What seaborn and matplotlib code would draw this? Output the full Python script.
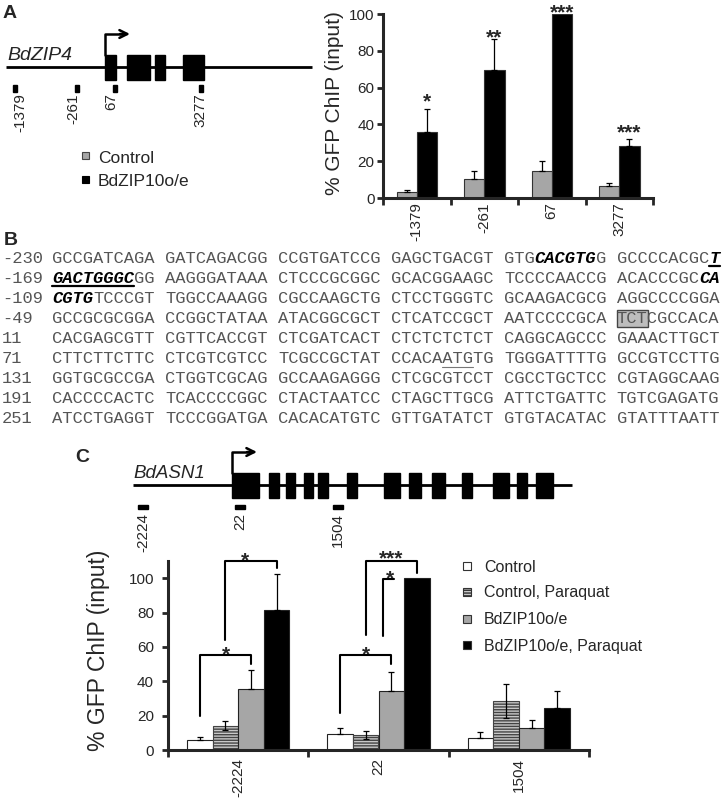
import numpy as np
import pandas as pd
import matplotlib
matplotlib.use("Agg")
import matplotlib.pyplot as plt
import seaborn as sns
from matplotlib.patches import Rectangle

# === Panel A: BdZIP4 ChIP ===
sites_a = ["-1379", "-261", "67", "3277"]
groups_a = ["Control", "BdZIP10o/e"]
control_a = [3.1, 10.1, 14.5, 6.7]
control_a_err = [1.2, 4.4, 5.6, 1.3]
oe_a = [36.0, 69.4, 100.0, 28.4]
oe_a_err = [12.6, 17.2, 0.0, 3.8]
stars_a = ["*", "**", "***", "***"]
star_y_a = [49.2, 84.1, 97.7, 32.4]

# === Panel C: BdASN1 ChIP ===
sites_c = ["-2224", "22", "1504"]
groups_c = ["Control", "Control, Paraquat", "BdZIP10o/e", "BdZIP10o/e, Paraquat"]
control_c = [5.8, 9.3, 6.8]
control_c_err = [1.8, 3.3, 3.7]
control_pq_c = [14.2, 8.7, 28.5]
control_pq_c_err = [2.7, 2.2, 9.8]
oe_c = [35.5, 34.5, 13.0]
oe_c_err = [11.3, 10.7, 4.3]
oe_pq_c = [81.5, 100.0, 24.3]
oe_pq_c_err = [20.8, 0.0, 10.1]

# === Panel B: promoter sequence ===
seq_starts = ["-230", "-169", "-109", "-49", "11", "71", "131", "191", "251"]
seq_blocks = [
    ["GCCGATCAGA", "GATCAGACGG", "CCGTGATCCG", "GAGCTGACGT", "GTGCACGTGG", "GCCCCACGCT"],
    ["GACTGGGCGG", "AAGGGATAAA", "CTCCCGCGGC", "GCACGGAAGC", "TCCCCAACCG", "ACACCCGCCA"],
    ["CGTGTCCCGT", "TGGCCAAAGG", "CGCCAAGCTG", "CTCCTGGGTC", "GCAAGACGCG", "AGGCCCCGGA"],
    ["GCCGCGCGGA", "CCGGCTATAA", "ATACGGCGCT", "CTCATCCGCT", "AATCCCCGCA", "TCTCGCCACA"],
    ["CACGAGCGTT", "CGTTCACCGT", "CTCGATCACT", "CTCTCTCTCT", "CAGGCAGCCC", "GAAACTTGCT"],
    ["CTTCTTCTTC", "CTCGTCGTCC", "TCGCCGCTAT", "CCACAATGTG", "TGGGATTTTG", "GCCGTCCTTG"],
    ["GGTGCGCCGA", "CTGGTCGCAG", "GCCAAGAGGG", "CTCGCGTCCT", "CGCCTGCTCC", "CGTAGGCAAG"],
    ["CACCCCACTC", "TCACCCCGGC", "CTACTAATCC", "CTAGCTTGCG", "ATTCTGATTC", "TGTCGAGATG"],
    ["ATCCTGAGGT", "TCCCGGATGA", "CACACATGTC", "GTTGATATCT", "GTGTACATAC", "GTATTTAATT"],
]
# (row, first base, end base)
bold_spans = [(0, 43, 49), (0, 59, 60), (1, 0, 8), (1, 58, 60), (2, 0, 4)]
thick_underlines = [(0, 59, 60), (1, 0, 8)]
thin_underlines = [(5, 35, 38)]
boxed_spans = [(3, 50, 53)]

sns.set_style("ticks")
plt.rcParams["font.family"] = ["Liberation Sans", "DejaVu Sans"]
plt.rcParams["hatch.linewidth"] = 1.0

W, H = 723, 801
fig = plt.figure(figsize=(W / 100, H / 100), dpi=100)

# overlay in pixel coordinates for diagrams and text
ov = fig.add_axes([0, 0, 1, 1])
ov.set_xlim(0, W)
ov.set_ylim(H, 0)
ov.axis("off")

gray = "#a6a6a6"
seq_gray = "#555555"
star_kw = dict(ha="center", va="baseline", fontsize=15, fontweight="bold", clip_on=False)

# === panel labels ===
for lab, x, y in [("A", 3, 18), ("B", 4, 245), ("C", 75, 462)]:
    ov.text(x, y, lab, fontsize=14, fontweight="bold", va="baseline")


def gene(ov, x0, x1, y, exons, tss, arrow_end, label, label_x, label_size):
    ov.plot([x0, x1], [y, y], color="black", lw=2.0, solid_capstyle="butt")
    for a, b in exons:
        ov.add_patch(Rectangle((a, y - 12.5), b - a, 25, color="black", zorder=3))
    ov.plot([tss, tss, arrow_end - 6], [y - 12.5, y - 33, y - 33], color="black", lw=1.8)
    ov.annotate("", xy=(arrow_end, y - 33), xytext=(arrow_end - 10, y - 33),
                arrowprops=dict(arrowstyle="->", lw=1.8, color="black",
                                mutation_scale=14, shrinkA=0, shrinkB=0))
    ov.text(label_x, y - 7, label, fontsize=label_size, style="italic", va="baseline")


# === Panel A gene model ===
gene(ov, 6, 312, 67, [(105, 116), (127, 150), (155, 165), (183, 204)],
     105, 130, "BdZIP4", 7, 14)
for lab, tx, mx in zip(sites_a, [20, 73, 111, 200], [13, 75, 113, 199]):
    ov.add_patch(Rectangle((mx, 85), 4, 7, color="black"))
    ov.text(tx, 93, lab, rotation=90, ha="center", va="top", fontsize=11)

# legend A
ov.add_patch(Rectangle((82, 152), 7, 7, facecolor=gray, edgecolor="#444", lw=0.8))
ov.add_patch(Rectangle((82, 176), 7, 7, facecolor="black", edgecolor="black", lw=0.8))
ov.text(98, 163, "Control", fontsize=12.5, va="baseline")
ov.text(98, 186, "BdZIP10o/e", fontsize=12.5, va="baseline")

# === Panel B sequence ===
cw = 10.27
x_seq = 52
bold_mask = np.zeros((len(seq_blocks), 60), dtype=bool)
for r, a, b in bold_spans:
    bold_mask[r, a:b] = True

for r, (start, blocks) in enumerate(zip(seq_starts, seq_blocks)):
    base = 263 + 20 * r
    ov.text(2, base, start, family="Liberation Mono", fontsize=12.3,
            color=seq_gray, va="baseline")
    for b, block in enumerate(blocks):
        k = 0
        while k < 10:
            style = bold_mask[r, b * 10 + k]
            j = k
            while j < 10 and bold_mask[r, b * 10 + j] == style:
                j += 1
            x = x_seq + (b * 10 + k + b) * cw
            if style:
                ov.text(x, base, block[k:j], family="Liberation Mono", fontsize=12.3,
                        fontweight="bold", style="italic", color="black", va="baseline")
            else:
                ov.text(x, base, block[k:j], family="Liberation Mono", fontsize=12.3,
                        color=seq_gray, va="baseline")
            k = j


def col_x(k):
    return x_seq + (k + k // 10) * cw


for r, a, b in thick_underlines:
    y = 263 + 20 * r + 3
    ov.plot([col_x(a), col_x(b - 1) + cw], [y, y], color="black", lw=1.6)
for r, a, b in thin_underlines:
    y = 263 + 20 * r + 4
    ov.plot([col_x(a), col_x(b - 1) + cw], [y, y], color="#777", lw=0.8)
for r, a, b in boxed_spans:
    base = 263 + 20 * r
    ov.add_patch(Rectangle((col_x(a), base - 13), col_x(b - 1) + cw - col_x(a), 17,
                           facecolor="#bdbdbd", edgecolor="#444", lw=1.0, zorder=0))

# === Panel C gene model ===
exons_c = [(232, 259), (269, 279), (286, 295), (304, 313), (318, 328), (347, 357),
           (384, 400), (409, 421), (432, 445), (462, 472), (493, 509), (517, 527),
           (536, 553)]
gene(ov, 133, 572, 485, exons_c, 232, 257, "BdASN1", 133, 13.5)
for lab, x in zip(sites_c, [143, 240, 338]):
    ov.add_patch(Rectangle((x - 5, 505), 10, 4, color="black"))
    ov.text(x, 513, lab, rotation=90, ha="center", va="top", fontsize=11)

# legend C
leg_y = [566, 592, 619, 645]
leg_face = ["white", "#c8c8c8", gray, "black"]
for y, lab, fc, i in zip(leg_y, groups_c, leg_face, range(4)):
    sq = Rectangle((463, y - 4), 8, 8, facecolor=fc, edgecolor="#333", lw=0.8)
    if i == 1:
        sq.set_hatch("------")
    ov.add_patch(sq)
    ov.text(484, y + 5.5, lab, fontsize=11.5, va="baseline")

# y labels
ov.text(335, 103, "% GFP ChIP (input)", rotation=90, ha="center", va="center", fontsize=15)
ov.text(98, 650, "% GFP ChIP (input)", rotation=90, ha="center", va="center", fontsize=16.5)


def style_axis(ax, labels, ymax, xpad, ypad):
    n = len(labels)
    ax.set_xlim(-0.5, n - 0.5)
    ax.set_ylim(0, ymax)
    ax.set_yticks(range(0, 101, 20))
    ax.set_xticks(range(n))
    ax.set_xticklabels(labels, rotation=90)
    ax.set_xticks(np.arange(-0.5, n), minor=True)
    ax.set_xlabel("")
    ax.set_ylabel("")
    ax.tick_params(axis="x", which="major", length=0, pad=xpad, labelsize=11)
    ax.tick_params(axis="x", which="minor", length=5, width=2.0, direction="out")
    ax.tick_params(axis="y", length=4, width=2.0, pad=ypad, labelsize=11)
    sns.despine(ax=ax)
    for s in ["left", "bottom"]:
        ax.spines[s].set_linewidth(2.2)
    ax.set_facecolor("none")


def add_errors(ax, errs, lower_flags):
    for cont, err, low in zip(ax.containers, errs, lower_flags):
        for p, e in zip(cont, err):
            if e <= 0:
                continue
            x = p.get_x() + p.get_width() / 2
            y = p.get_height()
            ax.errorbar([x], [y], yerr=[[e if low else 0], [e]], fmt="none",
                        ecolor="black", elinewidth=0.9, capsize=2.5, capthick=0.9,
                        zorder=4, clip_on=False)


# === Panel A bars ===
ax_a = fig.add_axes([383 / W, (H - 198) / H, 270 / W, 184 / H])
df_a = pd.DataFrame({
    "site": sites_a * 2,
    "group": [groups_a[0]] * 4 + [groups_a[1]] * 4,
    "value": control_a + oe_a,
})
sns.barplot(data=df_a, x="site", y="value", hue="group", order=sites_a,
            hue_order=groups_a, palette={groups_a[0]: gray, groups_a[1]: "black"},
            width=0.6, errorbar=None, edgecolor="#333", linewidth=0.8,
            legend=False, ax=ax_a)
style_axis(ax_a, sites_a, 100, 3, 2)
add_errors(ax_a, [control_a_err, oe_a_err], [False, False])
for p, s, y in zip(ax_a.containers[1], stars_a, star_y_a):
    ax_a.text(p.get_x() + p.get_width() / 2, y, s, **star_kw)

# === Panel C bars ===
ax_c = fig.add_axes([168 / W, (H - 750) / H, 421 / W, 189 / H])
vals_c = [control_c, control_pq_c, oe_c, oe_pq_c]
df_c = pd.DataFrame({
    "site": sites_c * 4,
    "group": np.repeat(groups_c, 3),
    "value": np.concatenate(vals_c),
})
sns.barplot(data=df_c, x="site", y="value", hue="group", order=sites_c,
            hue_order=groups_c, palette=dict(zip(groups_c, ["white", "#c8c8c8", gray, "black"])),
            width=0.73, errorbar=None, edgecolor="#222", linewidth=0.8,
            legend=False, ax=ax_c)
for p in ax_c.containers[1]:
    p.set_hatch("------")
    p.set_edgecolor("#444")
style_axis(ax_c, sites_c, 110, 6, 6)
add_errors(ax_c, [control_c_err, control_pq_c_err, oe_c_err, oe_pq_c_err],
           [False, True, False, False])


def bar_x(h, i):
    p = ax_c.containers[h][i]
    return p.get_x() + p.get_width() / 2


def bracket(x1, x2, y1, ytop, y2):
    ax_c.plot([x1, x1, x2, x2], [y1, ytop, ytop, y2], color="black", lw=1.5,
              clip_on=False, zorder=5)


# control vs o/e, both sites
for i in [0, 1]:
    bracket(bar_x(0, i), bar_x(2, i), 19.5 if i == 0 else 21.5, 55.3, 50.0)
    ax_c.text(i - 0.089, 52.4, "*", **star_kw)
# control paraquat vs o/e paraquat
bracket(bar_x(1, 0), bar_x(3, 0), 64.0, 110.2, 106.0)
ax_c.text(0.046, 106.9, "*", **star_kw)
bracket(bar_x(1, 1), bar_x(3, 1), 67.0, 110.2, 103.3)
ax_c.text(1.09, 108.0, "***", **star_kw)
# o/e vs o/e paraquat at 22
gx = bar_x(2, 1)
ax_c.plot([gx - 0.057, gx - 0.057, gx + 0.02], [66.4, 99.4, 99.4], color="black",
          lw=1.5, clip_on=False, zorder=5)
ax_c.text(1.082, 96.5, "*", **star_kw)

fig.savefig("out.png", dpi=100)
